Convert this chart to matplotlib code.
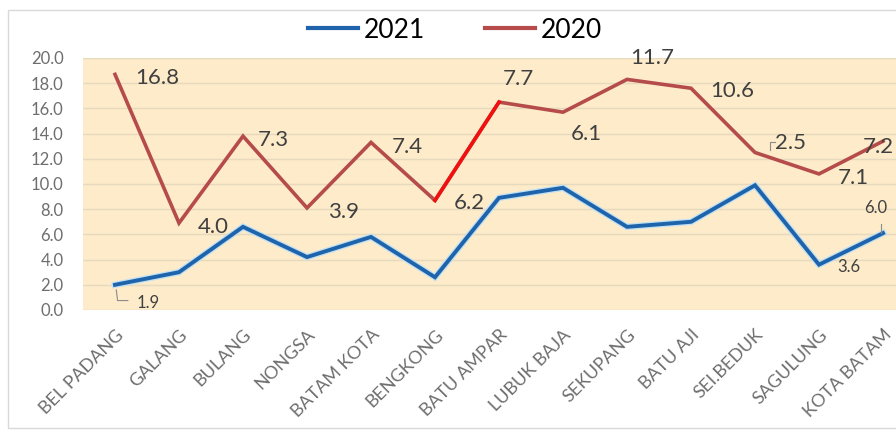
import matplotlib
matplotlib.use("Agg")
from matplotlib import pyplot as plt
from matplotlib import patheffects as pe
from matplotlib.lines import Line2D
from matplotlib.patches import Rectangle
import numpy as np

plt.rcParams['font.family'] = ['Lato', 'DejaVu Sans']

kecamatan = ["BEL PADANG", "GALANG", "BULANG", "NONGSA", "BATAM KOTA", "BENGKONG",
             "BATU AMPAR", "LUBUK BAJA", "SEKUPANG", "BATU AJI", "SEI.BEDUK",
             "SAGULUNG", "KOTA BATAM"]
v2021 = [2.0, 3.0, 6.6, 4.2, 5.8, 2.6, 8.9, 9.7, 6.6, 7.0, 9.9, 3.6, 6.1]
v2020 = [18.7, 6.9, 13.8, 8.1, 13.3, 8.7, 16.5, 15.7, 18.3, 17.6, 12.5, 10.8, 13.4]

# data labels as they appear on the chart
lbl_text = ["16.8", "7.3", "3.9", "7.4", "6.2", "7.7", "6.1", "11.7", "10.6", "2.5", "7.1", "7.2",
            "4.0", "1.9", "6.0", "3.6"]
lbl_x = [0.66, 2.47, 3.57, 4.57, 5.54, 6.30, 7.37, 8.39, 9.65, 10.55, 11.54, 11.92,
         1.54, 0.52, 11.89, 11.46]
lbl_y = [18.4, 13.5, 7.8, 12.9, 8.5, 18.3, 14.0, 20.0, 17.4, 13.25, 10.5, 12.9,
         6.6, 0.55, 8.1, 3.4]
lbl_size = [16]*13 + [12, 12, 12]

blue = "#1F64AA"
red = "#B54B4A"
grey = "#6E6E6E"

fig = plt.figure(figsize=(8.96, 4.32), dpi=100)
ax = fig.add_axes([83/896, 122/432, 832/896, 252/432])
ax.set_facecolor("#FDEBC9")

x = np.arange(len(kecamatan))
ax.plot(x, v2021, color=blue, lw=2.8, solid_joinstyle='miter', zorder=3,
        path_effects=[pe.Stroke(linewidth=4.6, foreground="#BFE0F5"), pe.Normal()])
ax.plot(x, v2020, color=red, lw=2.6, solid_joinstyle='miter', zorder=3)
# highlighted segment BENGKONG -> BATU AMPAR
ax.plot(x[5:7], v2020[5:7], color="#F01010", lw=2.6, zorder=4)

for t, lx, ly, s in zip(lbl_text, lbl_x, lbl_y, lbl_size):
    ax.text(lx, ly, t, fontsize=s, color="#404040", ha='center', va='center', zorder=5)

# small leader lines
ax.plot([0.02, 0.04, 0.2], [1.6, 0.75, 0.75], color="#8C8C8C", lw=0.8, zorder=4)
ax.plot([10.24, 10.24, 10.32], [12.7, 13.3, 13.3], color="#8C8C8C", lw=0.8, zorder=4)
ax.plot([11.97, 11.97], [6.1, 6.8], color="#8C8C8C", lw=0.8, zorder=4)

ax.set_xlim(-0.5, 12.5)
ax.set_ylim(0, 20)
ax.set_yticks(np.arange(0, 20.1, 2.0))
ax.set_yticklabels([f"{v:.1f}" for v in np.arange(0, 20.1, 2.0)], color=grey, fontsize=12)
ax.set_xticks(x)
ax.set_xticklabels(kecamatan, rotation=45, ha='right', rotation_mode='anchor',
                   color=grey, fontsize=13)
ax.tick_params(length=0)
ax.tick_params(axis='x', pad=12)
ax.tick_params(axis='y', pad=14)
ax.grid(axis='y', color="#E6D9BE", lw=1.0)
ax.set_axisbelow(True)
for s in ax.spines.values():
    s.set_visible(False)

handles = [Line2D([], [], color=blue, lw=3), Line2D([], [], color=red, lw=3)]
fig.legend(handles, ["2021", "2020"], loc='center', bbox_to_anchor=(455/896, 1 - 30/432),
           ncol=2, frameon=False, fontsize=19, handlelength=1.9, columnspacing=2.3,
           handletextpad=0.2)

fig.patches.append(Rectangle((8/896, 4/432), 1.0, 418/432, transform=fig.transFigure,
                             fill=False, edgecolor="#D9D9D9", lw=1))

plt.savefig("out.png", dpi=100)
